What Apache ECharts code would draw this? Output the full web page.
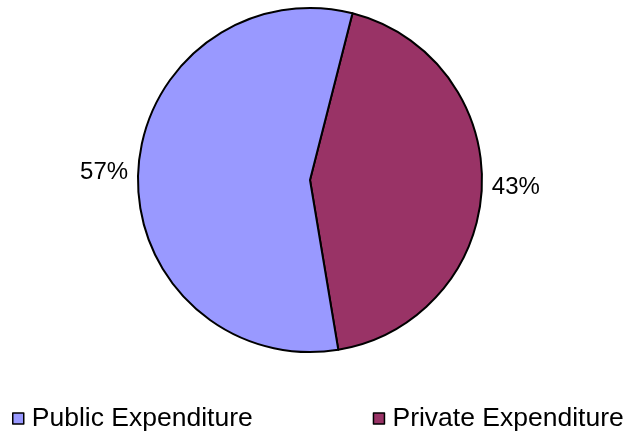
<!DOCTYPE html>
<html>
<head>
<meta charset="utf-8">
<script src="https://cdn.jsdelivr.net/npm/echarts@6/dist/echarts.min.js"></script>
<style>
html,body{margin:0;padding:0;background:#fff;}
#chart{width:628px;height:439px;}
</style>
</head>
<body>
<div id="chart"></div>
<script>
const categories = ['Public Expenditure', 'Private Expenditure'];
const values = [56.6, 43.4];
const colors = ['#9999FF', '#993366'];

const chart = echarts.init(document.getElementById('chart'), null, {renderer: 'canvas'});
// draw Private first (clockwise from just right of top), Public after
const order = [1, 0];
const data = order.map(i => ({
  name: categories[i],
  value: values[i],
  itemStyle: {color: colors[i]}
}));

chart.setOption({
  animation: false,
  textStyle: {fontFamily: 'Liberation Sans, Arial, sans-serif'},
  legend: {
    data: categories,
    orient: 'horizontal',
    left: 12,
    top: 405,
    width: 640,
    padding: 0,
    icon: 'rect',
    itemWidth: 11,
    itemHeight: 11,
    itemGap: 120,
    itemStyle: {borderColor: '#000', borderWidth: 1.5},
    textStyle: {fontSize: 26.5, color: '#000', fontFamily: 'Liberation Sans, Arial, sans-serif', padding: [0, 0, 0, 3]}
  },
  series: [{
    type: 'pie',
    center: [310, 180],
    radius: 172,
    startAngle: 75.7,
    clockwise: true,
    data: data,
    itemStyle: {borderColor: '#000', borderWidth: 2},
    label: {
      show: true,
      position: 'outside',
      color: '#000',
      fontSize: 24,
      fontFamily: 'Liberation Sans, Arial, sans-serif',
      distanceToLabelLine: 5,
      formatter: p => Math.round(p.percent) + '%'
    },
    labelLine: {show: false, length: 5, length2: 0},
    emphasis: {disabled: true}
  }]
});
</script>
</body>
</html>
